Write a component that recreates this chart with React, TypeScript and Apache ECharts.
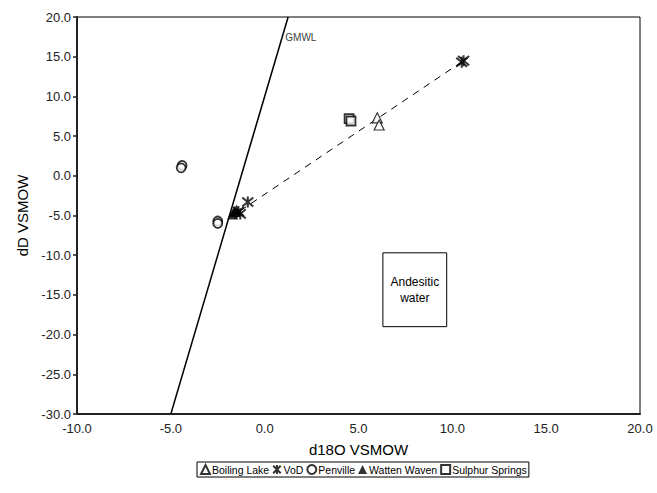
import React, { useEffect, useRef } from "react";
import * as echarts from "echarts";

const boilingLake: number[][] = [[6.0, 7.3], [6.1, 6.4]];
const vod: number[][] = [[-0.9, -3.3], [-1.4, -4.5], [-1.3, -4.8], [10.6, 14.5], [10.5, 14.3]];
const penville: number[][] = [[-4.4, 1.3], [-4.45, 1.0], [-2.5, -5.7], [-2.5, -6.0]];
const wattenWaven: number[][] = [[-1.6, -4.5], [-1.5, -4.3], [-1.7, -4.8]];
const sulphurSprings: number[][] = [[4.5, 7.2], [4.6, 6.9]];
const gmwl: number[][] = [[-5, -30], [1.25, 20]];
const mixingLine: number[][] = [[-1.3, -4.4], [10.6, 14.5]];
const andesiticBox: number[][] = [[6.3, -9.7], [9.7, -19.0]];
const gmwlLabelPos: number[] = [1.1, 17.4];

const FONT = "Liberation Sans, Arial, sans-serif";
const STAR = "path://M0,0 L10,10 M10,0 L0,10 M5,-1 L5,11";

export default function App() {
  const ref = useRef<HTMLDivElement>(null);
  useEffect(() => {
    const chart = echarts.init(ref.current!, undefined, { renderer: "svg" });
    const openStyle = { color: "#fff", borderColor: "#000", borderWidth: 1.2 };
    chart.setOption({
      animation: false,
      backgroundColor: "#fff",
      textStyle: { fontFamily: FONT },
      grid: { left: 77, right: 17, top: 17, bottom: 79, show: true, borderColor: "#000", borderWidth: 1, backgroundColor: "transparent" },
      legend: {
        left: 197,
        top: 462,
        width: 600,
        padding: [2, 2, 2, 3],
        borderColor: "#000",
        borderWidth: 1,
        itemWidth: 9,
        itemHeight: 9,
        itemGap: 3,
        textStyle: { fontSize: 10.5, color: "#000", fontFamily: FONT, padding: [0, 0, 0, -3] },
        data: ["Boiling Lake", "VoD", "Penville", "Watten Waven", "Sulphur Springs"],
      },
      xAxis: {
        type: "value",
        min: -10,
        max: 20,
        interval: 5,
        name: "d18O VSMOW",
        nameLocation: "middle",
        nameGap: 28,
        nameTextStyle: { fontSize: 15, color: "#000", fontFamily: FONT },
        axisLine: { show: true, onZero: false, lineStyle: { color: "#222", width: 2 } },
        axisTick: { show: false },
        splitLine: { show: false },
        axisLabel: { fontSize: 13, color: "#222", margin: 8, formatter: (v: number) => v.toFixed(1) },
      },
      yAxis: {
        type: "value",
        min: -30,
        max: 20,
        interval: 5,
        name: "dD VSMOW",
        nameLocation: "middle",
        nameGap: 47,
        nameRotate: 90,
        nameTextStyle: { fontSize: 15, color: "#000", fontFamily: FONT },
        axisLine: { show: true, onZero: false, lineStyle: { color: "#222", width: 2 } },
        axisTick: { show: true, length: 4, lineStyle: { color: "#222", width: 1.5 } },
        splitLine: { show: false },
        axisLabel: { fontSize: 13, color: "#222", margin: 6, formatter: (v: number) => v.toFixed(1) },
      },
      series: [
        {
          type: "line",
          data: gmwl,
          symbol: "none",
          lineStyle: { color: "#000", width: 1.5 },
          silent: true,
          z: 1,
        },
        {
          type: "scatter",
          data: [gmwlLabelPos],
          symbolSize: 0,
          label: { show: true, formatter: "GMWL", position: "right", distance: 0, fontSize: 10, color: "#000", fontFamily: FONT },
          silent: true,
        },
        {
          type: "line",
          data: mixingLine,
          symbol: "none",
          lineStyle: { color: "#000", width: 1, type: [7, 6] },
          silent: true,
          z: 1,
          markArea: {
            silent: true,
            itemStyle: { color: "#fff", borderColor: "#000", borderWidth: 1 },
            label: { show: true, position: "inside", formatter: "Andesitic\nwater", fontSize: 12, color: "#000", lineHeight: 16, fontFamily: FONT },
            data: [[{ coord: andesiticBox[0] }, { coord: andesiticBox[1] }]],
          },
        },
        { name: "Boiling Lake", type: "scatter", data: boilingLake, symbol: "triangle", symbolSize: 10, itemStyle: openStyle, z: 3 },
        { name: "VoD", type: "scatter", data: vod, symbol: STAR, symbolSize: 11, itemStyle: { color: "transparent", borderColor: "#000", borderWidth: 2 }, z: 4 },
        { name: "Penville", type: "scatter", data: penville, symbol: "circle", symbolSize: 9, itemStyle: { color: "#fff", borderColor: "#000", borderWidth: 1.8 }, z: 3 },
        { name: "Watten Waven", type: "scatter", data: wattenWaven, symbol: "triangle", symbolSize: 11, itemStyle: { color: "#000" }, z: 3 },
        { name: "Sulphur Springs", type: "scatter", data: sulphurSprings, symbol: "rect", symbolSize: 9, itemStyle: { color: "#fff", borderColor: "#000", borderWidth: 1.8 }, z: 3 },
      ],
    });
    return () => chart.dispose();
  }, []);
  return <div ref={ref} style={{ width: 657, height: 493, position: "absolute", left: 0, top: 0 }} />;
}
